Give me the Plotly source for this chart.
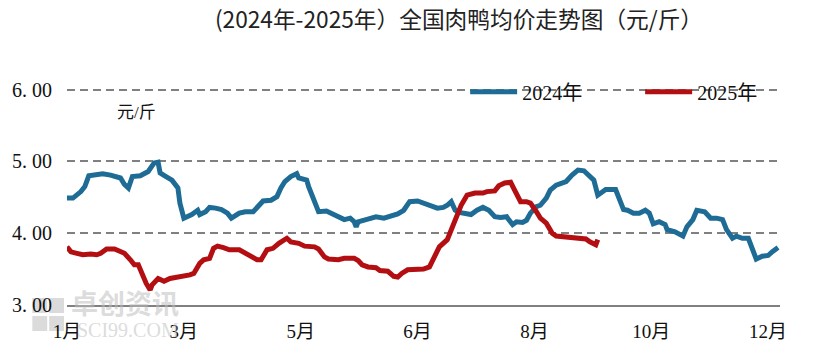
import plotly.graph_objects as go

# ---- data (day index within the year, price in 元/斤) ----
days_2024 = [0, 3, 7, 9, 11, 13, 18, 22, 27, 29, 31, 33, 37, 41, 44, 46, 47, 50, 53, 56,
             57, 59, 61, 63, 66, 67, 70, 72, 75, 78, 81, 83, 87, 90, 94, 97, 99, 103, 106, 108,
             110, 113, 116, 117, 121, 122, 125, 127, 131, 134, 137, 140, 143, 145, 146, 147, 151, 153, 156, 160,
             163, 167, 170, 173, 177, 180, 183, 187, 190, 192, 194, 196, 198, 202, 204, 207, 210, 213, 216, 219,
             222, 223, 225, 227, 230, 232, 234, 237, 239, 242, 244, 247, 250, 252, 255, 258, 261, 263, 266, 268,
             272, 277, 279, 281, 283, 286, 289, 292, 294, 296, 299, 302, 303, 307, 311, 313, 316, 318, 322, 325,
             328, 331, 333, 336, 338, 341, 344, 346, 348, 351, 354, 356, 359]
price_2024 = [4.49, 4.49, 4.58, 4.65, 4.80, 4.81, 4.83, 4.81, 4.77, 4.68, 4.63, 4.79, 4.80, 4.86, 4.98, 4.99, 4.84, 4.79, 4.74, 4.63,
              4.42, 4.21, 4.23, 4.26, 4.32, 4.26, 4.30, 4.36, 4.35, 4.33, 4.28, 4.21, 4.28, 4.30, 4.30, 4.38, 4.45, 4.46, 4.51, 4.63,
              4.72, 4.79, 4.83, 4.77, 4.74, 4.65, 4.42, 4.30, 4.31, 4.27, 4.23, 4.19, 4.21, 4.16, 4.09, 4.16, 4.19, 4.21, 4.23, 4.21,
              4.23, 4.27, 4.32, 4.44, 4.45, 4.42, 4.38, 4.35, 4.36, 4.39, 4.44, 4.32, 4.29, 4.26, 4.26, 4.32, 4.36, 4.32, 4.23, 4.22,
              4.23, 4.19, 4.12, 4.16, 4.15, 4.18, 4.28, 4.37, 4.39, 4.49, 4.60, 4.67, 4.70, 4.72, 4.81, 4.88, 4.87, 4.81, 4.74, 4.53,
              4.61, 4.61, 4.49, 4.33, 4.32, 4.28, 4.28, 4.32, 4.28, 4.13, 4.16, 4.12, 4.05, 4.02, 3.96, 4.09, 4.19, 4.32, 4.30, 4.21,
              4.21, 4.19, 4.05, 3.93, 3.96, 3.93, 3.93, 3.79, 3.64, 3.68, 3.69, 3.74, 3.80]

days_2025 = [0, 2, 5, 8, 12, 15, 17, 20, 24, 27, 29, 32, 34, 36, 38, 40, 42, 43, 46, 49,
             52, 56, 60, 62, 64, 67, 69, 72, 74, 76, 79, 82, 87, 90, 93, 96, 98, 101, 104, 107,
             111, 113, 117, 120, 125, 127, 130, 132, 137, 140, 145, 147, 149, 152, 156, 158, 162, 165, 167, 169,
             172, 177, 180, 183, 186, 188, 192, 194, 197, 199, 202, 206, 210, 212, 216, 218, 221, 224, 226, 229,
             232, 234, 237, 239, 242, 245, 247, 252, 255, 258, 262, 264, 267, 268]
price_2025 = [3.81, 3.74, 3.72, 3.70, 3.71, 3.70, 3.72, 3.78, 3.78, 3.74, 3.72, 3.63, 3.56, 3.56, 3.42, 3.30, 3.21, 3.28, 3.37, 3.33,
              3.37, 3.39, 3.40, 3.42, 3.44, 3.58, 3.63, 3.65, 3.79, 3.82, 3.80, 3.77, 3.77, 3.72, 3.67, 3.63, 3.63, 3.77, 3.79, 3.86,
              3.93, 3.88, 3.86, 3.82, 3.81, 3.78, 3.67, 3.64, 3.63, 3.65, 3.65, 3.62, 3.56, 3.53, 3.52, 3.48, 3.47, 3.40, 3.39, 3.44,
              3.49, 3.49, 3.50, 3.53, 3.72, 3.81, 3.91, 4.05, 4.26, 4.39, 4.53, 4.56, 4.56, 4.58, 4.59, 4.66, 4.70, 4.71, 4.60, 4.44,
              4.44, 4.42, 4.30, 4.21, 4.14, 4.00, 3.96, 3.95, 3.94, 3.93, 3.92, 3.88, 3.84, 3.91]

month_tick_days = [0, 59, 118, 177, 236, 295, 354]
month_tick_labels = ["1月", "3月", "5月", "6月", "8月", "10月", "12月"]
y_tick_vals = [3, 4, 5, 6]
y_tick_labels = ["3. 00", "4. 00", "5. 00", "6. 00"]

BLUE = "#1E6C96"
RED = "#B30F12"
GRID = "#808080"
SERIF = "Liberation Serif, Noto Sans CJK SC, serif"

fig = go.Figure()
fig.add_trace(go.Scatter(x=days_2024, y=price_2024, name="2024年", mode="lines",
                         line=dict(color=BLUE, width=5)))
fig.add_trace(go.Scatter(x=days_2025, y=price_2025, name="2025年", mode="lines",
                         line=dict(color=RED, width=5)))

fig.update_layout(
    width=827, height=362,
    margin=dict(l=67, r=40, t=61, b=57),
    plot_bgcolor="white", paper_bgcolor="white",
    title=dict(text="(2024年-2025年）全国肉鸭均价走势图（元/斤）", x=0.555, xanchor="center",
               y=0.945, yanchor="middle",
               font=dict(family="Noto Sans CJK SC", size=22.7, color="#222222")),
    legend=dict(orientation="h", x=0.5584, xanchor="left", y=0.874, yanchor="middle",
                bgcolor="rgba(0,0,0,0)", font=dict(family=SERIF, size=20, color="#111111"),
                itemwidth=47, tracegroupgap=0, entrywidth=113),
    showlegend=True,
)

fig.update_xaxes(range=[0, 360], tickvals=month_tick_days, ticktext=month_tick_labels,
                 showgrid=False, zeroline=False, showline=True, linecolor=GRID, linewidth=2,
                 ticks="", ticklabelstandoff=8, automargin=False,
                 tickfont=dict(family=SERIF, size=19, color="#111111"))
fig.update_yaxes(range=[3, 6.4], tickvals=y_tick_vals, ticktext=y_tick_labels,
                 showgrid=True, gridcolor=GRID, gridwidth=2, griddash="8px,5px",
                 zeroline=False, showline=False, ticks="", ticklabelstandoff=14, automargin=False,
                 tickfont=dict(family=SERIF, size=20, color="#111111"))

# unit label
fig.add_annotation(text="元/斤", xref="paper", yref="paper", x=0.097, y=0.79,
                   xanchor="center", yanchor="middle",
                   showarrow=False, font=dict(family=SERIF, size=17, color="#111111"))

# watermark
fig.add_annotation(text="<b>卓创资讯</b>", xref="paper", yref="paper", x=0.082, y=0.012,
                   xanchor="center", yanchor="middle", showarrow=False,
                   font=dict(family="Noto Sans CJK SC", size=27, color="rgba(190,190,190,0.55)"))
fig.add_annotation(text="SCI99.COM", xref="paper", yref="paper", x=0.085, y=-0.102,
                   xanchor="center", yanchor="middle", showarrow=False,
                   font=dict(family=SERIF, size=20, color="rgba(190,190,190,0.55)"))
for (x0, y0) in [(32, 298), (49, 298), (32, 316), (49, 316)]:
    fig.add_shape(type="rect", xref="paper", yref="paper",
                  x0=(x0 - 67) / 720, x1=(x0 + 15 - 67) / 720,
                  y0=(305 - y0 - 15) / 244, y1=(305 - y0) / 244,
                  line=dict(width=0), fillcolor="rgba(195,195,195,0.6)", layer="below")

fig.write_html("out.html", config={"displayModeBar": False},
               post_script="document.body.style.margin='0';")
